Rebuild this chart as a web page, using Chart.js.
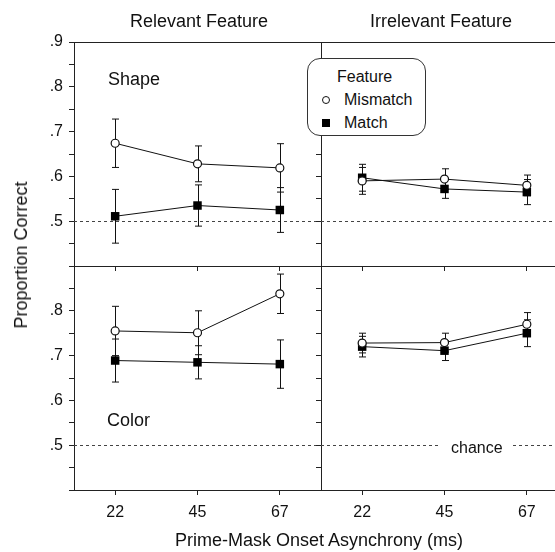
<!DOCTYPE html>
<html>
<head>
<meta charset="utf-8">
<title>Proportion correct by feature</title>
<script src="https://cdn.jsdelivr.net/npm/chart.js@4"></script>
<style>
  html, body { margin: 0; padding: 0; background: #fff; }
  #wrap { position: relative; width: 555px; height: 552px; overflow: hidden; background: #fff;
          font-family: "Liberation Sans", Arial, sans-serif; color: #111; }
  #wrap canvas { position: absolute; }
  .txt { position: absolute; white-space: nowrap; line-height: 18px; font-size: 18px; z-index: 5; }
  .ctr { transform: translate(-50%, -50%); }
  #legend { position: absolute; left: 307px; top: 58px; width: 119px; height: 78px; border: 1px solid #333;
            border-radius: 13px; background: #fff; z-index: 6; box-sizing: border-box; }
  #legend .lt { position: absolute; font-size: 16px; line-height: 16px; white-space: nowrap; }
  .mk { position: absolute; box-sizing: border-box; }
  #chance { position: absolute; font-size: 16px; line-height: 16px; background: #fff; padding: 0 10px; z-index: 5; }
</style>
</head>
<body>
<div id="wrap">
  <canvas id="shapeChart"></canvas>
  <canvas id="shapeIrrChart"></canvas>
  <canvas id="colorChart"></canvas>
  <canvas id="colorIrrChart"></canvas>

  <div class="txt ctr" style="left:199px; top:21px;">Relevant Feature</div>
  <div class="txt ctr" style="left:441px; top:21px;">Irrelevant Feature</div>
  <div class="txt ctr" style="left:319px; top:540px;">Prime-Mask Onset Asynchrony (ms)</div>
  <div class="txt" style="left:21px; top:255px; transform: translate(-50%, -50%) rotate(-90deg);">Proportion Correct</div>
  <div class="txt" style="left:108px; top:70px;">Shape</div>
  <div class="txt" style="left:107px; top:411px;">Color</div>
  <div id="chance" style="left:441px; top:440px;">chance</div>

  <div id="legend">
    <div class="lt" style="left:29px; top:10px;">Feature</div>
    <div class="mk" style="left:14px; top:37px; width:8px; height:8px; border:1.2px solid #111; border-radius:50%; background:#fff;"></div>
    <div class="lt" style="left:36px; top:33px;">Mismatch</div>
    <div class="mk" style="left:14px; top:60px; width:8px; height:8px; background:#000;"></div>
    <div class="lt" style="left:36px; top:56px;">Match</div>
  </div>
</div>

<script>
// Data
const xCategories = ['22', '45', '67'];
const yTicksTop = ['.5', '.6', '.7', '.8', '.9'];
const yTicksBottom = ['.5', '.6', '.7', '.8'];
const chanceLevel = 0.5;

// Shape, relevant feature
const shapeMismatch = [0.674, 0.628, 0.619];
const shapeMismatchErr = [0.054, 0.040, 0.054];
const shapeMatch = [0.511, 0.535, 0.525];
const shapeMatchErr = [0.060, 0.046, 0.050];

// Shape, irrelevant feature
const shapeIrrMismatch = [0.590, 0.594, 0.580];
const shapeIrrMismatchErr = [0.030, 0.023, 0.023];
const shapeIrrMatch = [0.597, 0.572, 0.565];
const shapeIrrMatchErr = [0.030, 0.021, 0.028];

// Color, relevant feature
const colorMismatch = [0.755, 0.751, 0.838];
const colorMismatchErr = [0.055, 0.049, 0.044];
const colorMatch = [0.689, 0.685, 0.681];
const colorMatchErr = [0.048, 0.037, 0.054];

// Color, irrelevant feature
const colorIrrMismatch = [0.728, 0.729, 0.770];
const colorIrrMismatchErr = [0.022, 0.021, 0.026];
const colorIrrMatch = [0.720, 0.711, 0.750];
const colorIrrMatchErr = [0.023, 0.022, 0.030];

const FONT = '"Liberation Sans", Arial, sans-serif';
const INK = '#111';
const AXIS = '#222';

// room around each plot area inside its canvas
const PAD_L = 70, PAD_T = 30, PAD_R = 30, PAD_B = 60;

// chance line + error bars, drawn under the markers
const errorBarPlugin = {
    id: 'errorBars',
    beforeDatasetsDraw(chart) {
        const ctx = chart.ctx;
        const area = chart.chartArea;
        const y = chart.scales.y;

        ctx.save();
        ctx.strokeStyle = '#444';
        ctx.lineWidth = 1;
        ctx.setLineDash([3, 3]);
        const cy = Math.round(y.getPixelForValue(chanceLevel)) + 0.5;
        ctx.beginPath();
        ctx.moveTo(area.left, cy);
        ctx.lineTo(area.right, cy);
        ctx.stroke();
        ctx.setLineDash([]);

        ctx.strokeStyle = INK;
        chart.data.datasets.forEach((ds, di) => {
            const meta = chart.getDatasetMeta(di);
            ds.data.forEach((v, i) => {
                const x = Math.round(meta.data[i].x) + 0.5;
                const top = y.getPixelForValue(v + ds.errors[i]);
                const bot = y.getPixelForValue(v - ds.errors[i]);
                ctx.beginPath();
                ctx.moveTo(x, top);
                ctx.lineTo(x, bot);
                ctx.moveTo(x - 3.5, top);
                ctx.lineTo(x + 3.5, top);
                ctx.moveTo(x - 3.5, bot);
                ctx.lineTo(x + 3.5, bot);
                ctx.stroke();
            });
        });
        ctx.restore();
    }
};

// top border of the panel frame
const framePlugin = {
    id: 'frame',
    afterDraw(chart) {
        const ctx = chart.ctx;
        const a = chart.chartArea;
        ctx.save();
        ctx.strokeStyle = AXIS;
        ctx.lineWidth = 1;
        ctx.beginPath();
        ctx.moveTo(a.left, Math.round(a.top) + 0.5);
        ctx.lineTo(a.right, Math.round(a.top) + 0.5);
        ctx.stroke();
        ctx.restore();
    }
};

function makePanel(id, box, mismatch, mismatchErr, match, matchErr, yLabels, showX) {
    const canvas = document.getElementById(id);
    const w = box.width + PAD_L + PAD_R;
    const h = box.height + PAD_T + PAD_B;
    canvas.width = w;
    canvas.height = h;
    canvas.style.width = w + 'px';
    canvas.style.height = h + 'px';
    canvas.style.left = (box.left - PAD_L) + 'px';
    canvas.style.top = (box.top - PAD_T) + 'px';

    return new Chart(canvas, {
        type: 'line',
        data: {
            labels: xCategories,
            datasets: [{
                label: 'Mismatch',
                data: mismatch,
                errors: mismatchErr,
                borderColor: INK,
                borderWidth: 1,
                pointStyle: 'circle',
                pointRadius: 4,
                pointBackgroundColor: '#fff',
                pointBorderColor: INK,
                pointBorderWidth: 1.2,
                tension: 0
            }, {
                label: 'Match',
                data: match,
                errors: matchErr,
                borderColor: INK,
                borderWidth: 1,
                pointStyle: 'rect',
                pointRadius: 6,
                pointBackgroundColor: '#000',
                pointBorderColor: '#000',
                pointBorderWidth: 0,
                tension: 0
            }]
        },
        options: {
            responsive: false,
            animation: false,
            events: [],
            devicePixelRatio: 1,
            layout: {
                padding: { left: 0, top: PAD_T, right: PAD_R, bottom: 0 }
            },
            plugins: {
                legend: { display: false },
                tooltip: { enabled: false }
            },
            scales: {
                x: {
                    type: 'category',
                    offset: true,
                    grid: { drawOnChartArea: false, color: AXIS, tickLength: 5 },
                    border: { color: AXIS, width: 1 },
                    ticks: {
                        color: INK,
                        font: { family: FONT, size: 16 },
                        padding: 8,
                        maxRotation: 0,
                        autoSkip: false,
                        callback: function (v) { return showX ? this.getLabelForValue(v) : ''; }
                    },
                    afterFit: s => { s.height = PAD_B; }
                },
                y: {
                    min: 0.4,
                    max: 0.9,
                    grid: { drawOnChartArea: false, color: AXIS, tickLength: 5 },
                    border: { color: AXIS, width: 1 },
                    ticks: {
                        stepSize: 0.05,
                        color: INK,
                        font: { family: FONT, size: 16 },
                        padding: 6,
                        callback: v => {
                            const k = Math.round(v * 20);
                            if (k % 2) return '';
                            const s = '.' + (k / 2);
                            return yLabels.includes(s) ? s : '';
                        }
                    },
                    afterFit: s => { s.width = PAD_L; }
                }
            }
        },
        plugins: [errorBarPlugin, framePlugin]
    });
}

function initCharts() {
    if (typeof Chart === 'undefined') {
        setTimeout(initCharts, 100);
        return;
    }
    makePanel('shapeChart', { left: 74, top: 42, width: 247, height: 224 },
        shapeMismatch, shapeMismatchErr, shapeMatch, shapeMatchErr, yTicksTop, false);
    makePanel('shapeIrrChart', { left: 321, top: 42, width: 247, height: 224 },
        shapeIrrMismatch, shapeIrrMismatchErr, shapeIrrMatch, shapeIrrMatchErr, [], false);
    makePanel('colorChart', { left: 74, top: 266, width: 247, height: 224 },
        colorMismatch, colorMismatchErr, colorMatch, colorMatchErr, yTicksBottom, true);
    makePanel('colorIrrChart', { left: 321, top: 266, width: 247, height: 224 },
        colorIrrMismatch, colorIrrMismatchErr, colorIrrMatch, colorIrrMatchErr, [], true);
}

initCharts();
</script>
</body>
</html>
